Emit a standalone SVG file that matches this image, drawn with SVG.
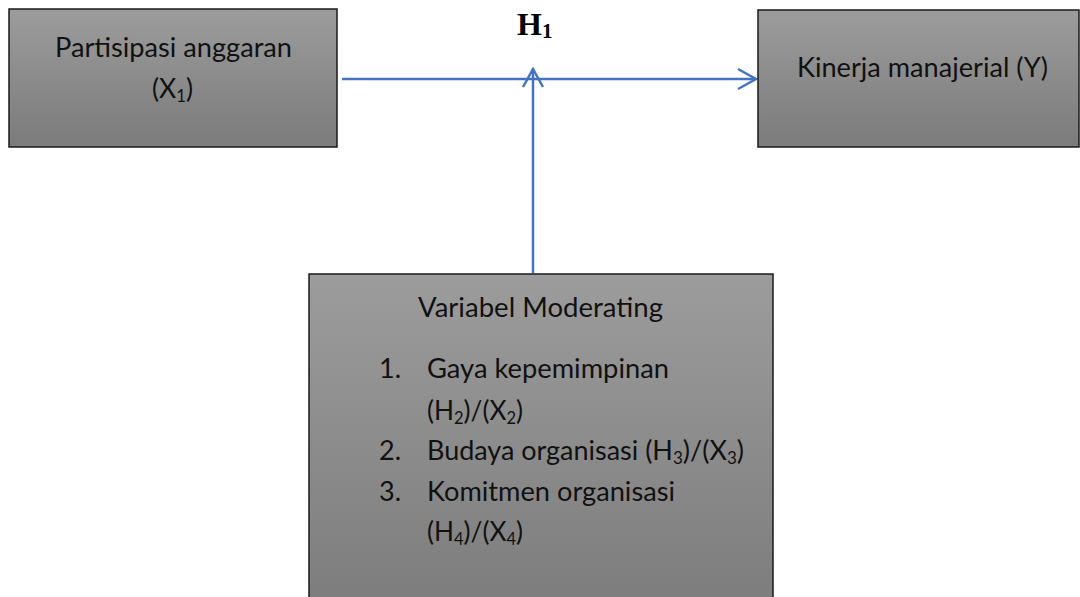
<svg xmlns="http://www.w3.org/2000/svg" width="1080" height="597" viewBox="0 0 1080 597">
<defs>
<linearGradient id="g" x1="0" y1="0" x2="0" y2="1">
<stop offset="0" stop-color="#9c9c9c"/>
<stop offset="1" stop-color="#7b7b7b"/>
</linearGradient>
<marker id="arr" markerUnits="userSpaceOnUse" markerWidth="24" markerHeight="24" viewBox="-20 -12 22 24" refX="0" refY="0" orient="auto">
<path d="M-18,-10 L0,0 L-18,10" fill="none" stroke="#4472C4" stroke-width="2.5"/>
</marker>
<style>
.box{fill:url(#g);stroke:#1a1a1a;stroke-width:1.5}
.t{font-family:Lato,"Open Sans","Liberation Sans",sans-serif;font-size:27px;fill:#111}
.sub{font-size:17px}
.h{font-family:"Liberation Serif","Times New Roman",serif;font-weight:bold;font-size:32px;fill:#000}
.c{fill:none;stroke:#4472C4;stroke-width:2.5}
</style>
</defs>
<rect width="1080" height="597" fill="#fff"/>
<g id="connectors">
<line class="c" x1="342" y1="79" x2="756" y2="79" marker-end="url(#arr)"/>
<line class="c" x1="533" y1="273" x2="533" y2="69" marker-end="url(#arr)"/>
</g>
<g id="label-h1">
<text class="h" x="517" y="35">H<tspan font-size="21" dy="3">1</tspan></text>
</g>
<g id="node-x1">
<rect class="box" x="9" y="9" width="328" height="138"/>
<text class="t" x="55" y="57" textLength="237" lengthAdjust="spacingAndGlyphs">Partisipasi anggaran</text>
<text class="t" x="152" y="98" textLength="41" lengthAdjust="spacingAndGlyphs">(X<tspan class="sub" dy="4">1</tspan><tspan dy="-4">)</tspan></text>
</g>
<g id="node-y">
<rect class="box" x="758" y="10" width="321" height="137"/>
<text class="t" x="797" y="77" textLength="251" lengthAdjust="spacingAndGlyphs">Kinerja manajerial (Y)</text>
</g>
<g id="node-moderating">
<rect class="box" x="309" y="274" width="464" height="350"/>
<text class="t" x="418" y="317" textLength="245" lengthAdjust="spacingAndGlyphs">Variabel Moderating</text>
<text class="t" x="379" y="378">1.</text>
<text class="t" x="427" y="378" textLength="242" lengthAdjust="spacingAndGlyphs">Gaya kepemimpinan</text>
<text class="t" x="427" y="420" textLength="96" lengthAdjust="spacingAndGlyphs">(H<tspan class="sub" dy="4">2</tspan><tspan dy="-4">)/(X</tspan><tspan class="sub" dy="4">2</tspan><tspan dy="-4">)</tspan></text>
<text class="t" x="379" y="460">2.</text>
<text class="t" x="427" y="460" textLength="317" lengthAdjust="spacingAndGlyphs">Budaya organisasi (H<tspan class="sub" dy="4">3</tspan><tspan dy="-4">)/(X</tspan><tspan class="sub" dy="4">3</tspan><tspan dy="-4">)</tspan></text>
<text class="t" x="379" y="501">3.</text>
<text class="t" x="427" y="501" textLength="248" lengthAdjust="spacingAndGlyphs">Komitmen organisasi</text>
<text class="t" x="427" y="541" textLength="96" lengthAdjust="spacingAndGlyphs">(H<tspan class="sub" dy="4">4</tspan><tspan dy="-4">)/(X</tspan><tspan class="sub" dy="4">4</tspan><tspan dy="-4">)</tspan></text>
</g>
</svg>
